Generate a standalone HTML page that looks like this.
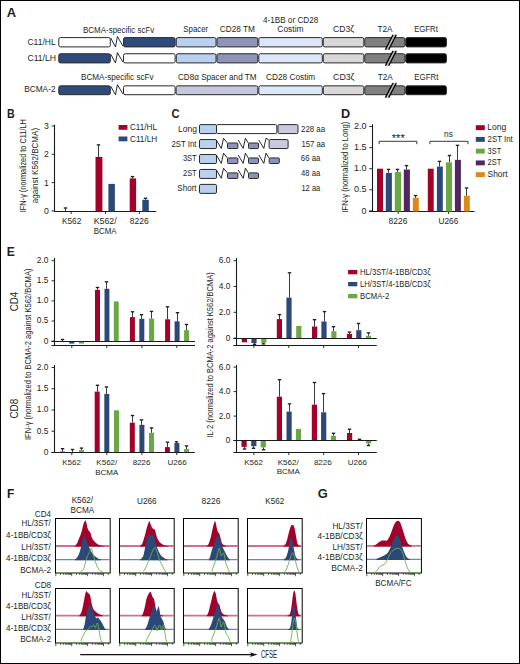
<!DOCTYPE html>
<html><head><meta charset="utf-8"><style>
html,body{margin:0;padding:0;background:#fff;}
svg{display:block;}
svg text{font-family:"Liberation Sans",sans-serif;fill:#231f20;}
</style></head><body>
<svg width="520" height="664" viewBox="0 0 520 664">
<rect x="0" y="0" width="520" height="664" fill="#fff"/>
<rect x="0.50" y="0.50" width="519.00" height="663.00" fill="none" stroke="#000" stroke-width="1.0"/>
<text x="6.78" y="16.50" font-size="12.2" font-weight="bold" textLength="9.36" lengthAdjust="spacingAndGlyphs">A</text>
<rect x="58.80" y="37.60" width="51.50" height="9.30" fill="#ffffff" stroke="#2a2a2a" stroke-width="1" rx="1.6"/>
<path d="M110.60,37.90 L115.50,47.00 L117.40,36.50 L122.90,46.00" fill="none" stroke="#111" stroke-width="0.9" stroke-linejoin="round"/>
<rect x="123.50" y="37.60" width="51.60" height="9.30" fill="#2e4b7c" stroke="#2a2a2a" stroke-width="1" rx="1.6"/>
<rect x="176.30" y="37.60" width="39.70" height="9.30" fill="#b9d1ef" stroke="#2a2a2a" stroke-width="1" rx="1.6"/>
<rect x="217.00" y="37.60" width="40.80" height="9.30" fill="#8e96b8" stroke="#2a2a2a" stroke-width="1" rx="1.6"/>
<rect x="258.80" y="37.60" width="63.50" height="9.30" fill="#dce7f7" stroke="#2a2a2a" stroke-width="1" rx="1.6"/>
<rect x="323.30" y="37.60" width="40.50" height="9.30" fill="#d8d8d8" stroke="#2a2a2a" stroke-width="1" rx="1.6"/>
<rect x="364.80" y="37.60" width="40.00" height="9.30" fill="#808080" stroke="#2a2a2a" stroke-width="1" rx="1.6"/>
<rect x="405.80" y="37.60" width="40.60" height="9.30" fill="#000000" stroke="#2a2a2a" stroke-width="1" rx="1.6"/>
<path d="M385.4,49.8 L393.0,34.7 L396.3,34.7 L388.7,49.8 Z" fill="#b4b4b4"/>
<line x1="385.40" y1="49.80" x2="393.00" y2="34.70" stroke="#000" stroke-width="1.3"/>
<line x1="388.70" y1="49.80" x2="396.30" y2="34.70" stroke="#000" stroke-width="1.3"/>
<rect x="58.80" y="53.75" width="51.50" height="9.15" fill="#2e4b7c" stroke="#2a2a2a" stroke-width="1" rx="1.6"/>
<path d="M110.60,54.05 L115.50,63.00 L117.40,52.65 L122.90,62.00" fill="none" stroke="#111" stroke-width="0.9" stroke-linejoin="round"/>
<rect x="123.50" y="53.75" width="51.60" height="9.15" fill="#ffffff" stroke="#2a2a2a" stroke-width="1" rx="1.6"/>
<rect x="176.30" y="53.75" width="39.70" height="9.15" fill="#b9d1ef" stroke="#2a2a2a" stroke-width="1" rx="1.6"/>
<rect x="217.00" y="53.75" width="40.80" height="9.15" fill="#8e96b8" stroke="#2a2a2a" stroke-width="1" rx="1.6"/>
<rect x="258.80" y="53.75" width="63.50" height="9.15" fill="#dce7f7" stroke="#2a2a2a" stroke-width="1" rx="1.6"/>
<rect x="323.30" y="53.75" width="40.50" height="9.15" fill="#d8d8d8" stroke="#2a2a2a" stroke-width="1" rx="1.6"/>
<rect x="364.80" y="53.75" width="40.00" height="9.15" fill="#808080" stroke="#2a2a2a" stroke-width="1" rx="1.6"/>
<rect x="405.80" y="53.75" width="40.60" height="9.15" fill="#000000" stroke="#2a2a2a" stroke-width="1" rx="1.6"/>
<path d="M385.4,65.8 L393.0,50.85 L396.3,50.85 L388.7,65.8 Z" fill="#b4b4b4"/>
<line x1="385.40" y1="65.80" x2="393.00" y2="50.85" stroke="#000" stroke-width="1.3"/>
<line x1="388.70" y1="65.80" x2="396.30" y2="50.85" stroke="#000" stroke-width="1.3"/>
<rect x="58.80" y="85.85" width="51.50" height="8.85" fill="#2e4b7c" stroke="#2a2a2a" stroke-width="1" rx="1.6"/>
<path d="M110.60,86.15 L115.50,94.80 L117.40,84.75 L122.90,93.80" fill="none" stroke="#111" stroke-width="0.9" stroke-linejoin="round"/>
<rect x="123.50" y="85.85" width="51.60" height="8.85" fill="#ffffff" stroke="#2a2a2a" stroke-width="1" rx="1.6"/>
<rect x="176.10" y="85.85" width="81.70" height="8.85" fill="#c5c8dc" stroke="#2a2a2a" stroke-width="1" rx="1.6"/>
<rect x="258.80" y="85.85" width="63.50" height="8.85" fill="#dce7f7" stroke="#2a2a2a" stroke-width="1" rx="1.6"/>
<rect x="323.30" y="85.85" width="40.50" height="8.85" fill="#d8d8d8" stroke="#2a2a2a" stroke-width="1" rx="1.6"/>
<rect x="364.80" y="85.85" width="40.00" height="8.85" fill="#808080" stroke="#2a2a2a" stroke-width="1" rx="1.6"/>
<rect x="405.80" y="85.85" width="40.60" height="8.85" fill="#000000" stroke="#2a2a2a" stroke-width="1" rx="1.6"/>
<path d="M385.4,97.60000000000001 L393.0,82.94999999999999 L396.3,82.94999999999999 L388.7,97.60000000000001 Z" fill="#b4b4b4"/>
<line x1="385.40" y1="97.60" x2="393.00" y2="82.95" stroke="#000" stroke-width="1.3"/>
<line x1="388.70" y1="97.60" x2="396.30" y2="82.95" stroke="#000" stroke-width="1.3"/>
<text x="27.48" y="44.50" font-size="8.3" textLength="28.20" lengthAdjust="spacingAndGlyphs">C11/HL</text>
<text x="27.47" y="60.50" font-size="8.3" textLength="28.51" lengthAdjust="spacingAndGlyphs">C11/LH</text>
<text x="24.22" y="92.30" font-size="8.3" textLength="31.30" lengthAdjust="spacingAndGlyphs">BCMA-2</text>
<text x="83.05" y="32.50" font-size="8.3" textLength="71.18" lengthAdjust="spacingAndGlyphs">BCMA-specific scFv</text>
<text x="183.34" y="32.20" font-size="8.3" textLength="24.89" lengthAdjust="spacingAndGlyphs">Spacer</text>
<text x="219.78" y="32.20" font-size="8.3" textLength="35.09" lengthAdjust="spacingAndGlyphs">CD28 TM</text>
<text x="262.91" y="22.60" font-size="8.3" textLength="55.34" lengthAdjust="spacingAndGlyphs">4-1BB or CD28</text>
<text x="277.27" y="31.80" font-size="8.3" textLength="26.39" lengthAdjust="spacingAndGlyphs">Costim</text>
<text x="333.06" y="32.00" font-size="8.3" textLength="21.10" lengthAdjust="spacingAndGlyphs">CD3ζ</text>
<text x="377.52" y="32.00" font-size="8.3" textLength="15.10" lengthAdjust="spacingAndGlyphs">T2A</text>
<text x="414.16" y="32.20" font-size="8.3" textLength="23.69" lengthAdjust="spacingAndGlyphs">EGFRt</text>
<text x="81.04" y="79.60" font-size="8.3" textLength="72.49" lengthAdjust="spacingAndGlyphs">BCMA-specific scFv</text>
<text x="177.99" y="79.70" font-size="8.3" textLength="78.48" lengthAdjust="spacingAndGlyphs">CD8α Spacer and TM</text>
<text x="266.08" y="79.70" font-size="8.3" textLength="49.06" lengthAdjust="spacingAndGlyphs">CD28 Costim</text>
<text x="333.05" y="80.00" font-size="8.3" textLength="21.41" lengthAdjust="spacingAndGlyphs">CD3ζ</text>
<text x="377.82" y="80.00" font-size="8.3" textLength="15.00" lengthAdjust="spacingAndGlyphs">T2A</text>
<text x="414.25" y="80.00" font-size="8.3" textLength="24.10" lengthAdjust="spacingAndGlyphs">EGFRt</text>
<text x="7.09" y="117.60" font-size="12.4" font-weight="bold" textLength="7.70" lengthAdjust="spacingAndGlyphs">B</text>
<line x1="54.50" y1="124.60" x2="54.50" y2="212.00" stroke="#1a1a1a" stroke-width="1.1"/>
<line x1="54.00" y1="211.50" x2="156.30" y2="211.50" stroke="#1a1a1a" stroke-width="1.1"/>
<line x1="51.60" y1="210.90" x2="54.50" y2="210.90" stroke="#1a1a1a" stroke-width="0.9"/>
<text x="44.00" y="213.90" font-size="8.7" textLength="4.84" lengthAdjust="spacingAndGlyphs">0</text>
<line x1="51.60" y1="182.60" x2="54.50" y2="182.60" stroke="#1a1a1a" stroke-width="0.9"/>
<text x="44.09" y="185.60" font-size="8.7" textLength="4.84" lengthAdjust="spacingAndGlyphs">1</text>
<line x1="51.60" y1="154.30" x2="54.50" y2="154.30" stroke="#1a1a1a" stroke-width="0.9"/>
<text x="44.10" y="157.30" font-size="8.7" textLength="4.84" lengthAdjust="spacingAndGlyphs">2</text>
<line x1="51.60" y1="126.00" x2="54.50" y2="126.00" stroke="#1a1a1a" stroke-width="0.9"/>
<text x="44.04" y="129.00" font-size="8.7" textLength="4.84" lengthAdjust="spacingAndGlyphs">3</text>
<line x1="71.20" y1="211.50" x2="71.20" y2="214.00" stroke="#1a1a1a" stroke-width="0.9"/>
<line x1="105.50" y1="211.50" x2="105.50" y2="214.00" stroke="#1a1a1a" stroke-width="0.9"/>
<line x1="139.40" y1="211.50" x2="139.40" y2="214.00" stroke="#1a1a1a" stroke-width="0.9"/>
<line x1="65.50" y1="211.00" x2="65.50" y2="208.20" stroke="#3a3a3a" stroke-width="1.0"/>
<line x1="63.80" y1="208.00" x2="67.20" y2="208.00" stroke="#222" stroke-width="1.4"/>
<rect x="95.50" y="156.90" width="6.90" height="54.60" fill="#a3002a"/>
<line x1="98.50" y1="156.90" x2="98.50" y2="145.10" stroke="#3a3a3a" stroke-width="1.0"/>
<line x1="96.80" y1="144.90" x2="100.20" y2="144.90" stroke="#222" stroke-width="1.4"/>
<rect x="108.40" y="183.90" width="6.50" height="27.60" fill="#2c4878"/>
<rect x="129.70" y="178.40" width="6.40" height="33.10" fill="#a3002a"/>
<line x1="132.50" y1="178.40" x2="132.50" y2="176.80" stroke="#3a3a3a" stroke-width="1.0"/>
<line x1="130.80" y1="176.60" x2="134.20" y2="176.60" stroke="#222" stroke-width="1.4"/>
<rect x="142.30" y="199.80" width="6.50" height="11.70" fill="#2c4878"/>
<line x1="145.50" y1="199.80" x2="145.50" y2="198.50" stroke="#3a3a3a" stroke-width="1.0"/>
<line x1="143.80" y1="198.30" x2="147.20" y2="198.30" stroke="#222" stroke-width="1.4"/>
<rect x="118.60" y="125.00" width="8.80" height="4.80" fill="#a3002a"/>
<rect x="118.60" y="136.50" width="8.80" height="4.80" fill="#2c4878"/>
<text x="130.00" y="130.00" font-size="8.3" textLength="26.97" lengthAdjust="spacingAndGlyphs">C11/HL</text>
<text x="129.99" y="141.50" font-size="8.3" textLength="27.16" lengthAdjust="spacingAndGlyphs">C11/LH</text>
<text x="62.02" y="224.20" font-size="8.3" textLength="19.29" lengthAdjust="spacingAndGlyphs">K562</text>
<text x="93.68" y="224.20" font-size="8.3" textLength="22.92" lengthAdjust="spacingAndGlyphs">K562/</text>
<text x="93.75" y="233.60" font-size="8.3" textLength="22.86" lengthAdjust="spacingAndGlyphs">BCMA</text>
<text x="129.83" y="224.20" font-size="8.3" textLength="18.84" lengthAdjust="spacingAndGlyphs">8226</text>
<text transform="translate(26.32,212.17) rotate(-90)" x="0" y="0" font-size="9.0" textLength="93.07" lengthAdjust="spacingAndGlyphs">IFN-γ (normalized to C11/LH</text>
<text transform="translate(38.32,203.14) rotate(-90)" x="0" y="0" font-size="9.0" textLength="75.24" lengthAdjust="spacingAndGlyphs">against K562/BCMA)</text>
<text x="171.44" y="117.60" font-size="12.2" font-weight="bold" textLength="8.06" lengthAdjust="spacingAndGlyphs">C</text>
<rect x="199.50" y="124.60" width="17.00" height="9.00" fill="#b9d1ef" stroke="#2a2a2a" stroke-width="1" rx="1.3"/>
<text x="178.10" y="131.70" font-size="8.6" textLength="18.95" lengthAdjust="spacingAndGlyphs">Long</text>
<text x="301.00" y="131.80" font-size="8.3" textLength="24.10" lengthAdjust="spacingAndGlyphs">228 aa</text>
<rect x="199.50" y="139.55" width="17.00" height="9.00" fill="#b9d1ef" stroke="#2a2a2a" stroke-width="1" rx="1.3"/>
<text x="171.41" y="146.70" font-size="8.6" textLength="25.15" lengthAdjust="spacingAndGlyphs">2ST Int</text>
<text x="301.41" y="146.50" font-size="8.3" textLength="23.69" lengthAdjust="spacingAndGlyphs">157 aa</text>
<rect x="199.50" y="154.50" width="17.00" height="9.00" fill="#b9d1ef" stroke="#2a2a2a" stroke-width="1" rx="1.3"/>
<text x="182.91" y="161.40" font-size="8.6" textLength="13.76" lengthAdjust="spacingAndGlyphs">3ST</text>
<text x="300.80" y="161.20" font-size="8.3" textLength="19.50" lengthAdjust="spacingAndGlyphs">66 aa</text>
<rect x="199.50" y="169.45" width="17.00" height="9.00" fill="#b9d1ef" stroke="#2a2a2a" stroke-width="1" rx="1.3"/>
<text x="183.03" y="176.30" font-size="8.6" textLength="13.64" lengthAdjust="spacingAndGlyphs">2ST</text>
<text x="301.02" y="176.00" font-size="8.3" textLength="19.28" lengthAdjust="spacingAndGlyphs">48 aa</text>
<rect x="199.50" y="184.40" width="17.00" height="9.00" fill="#b9d1ef" stroke="#2a2a2a" stroke-width="1" rx="1.3"/>
<text x="177.33" y="190.90" font-size="8.6" textLength="19.22" lengthAdjust="spacingAndGlyphs">Short</text>
<text x="301.43" y="190.70" font-size="8.3" textLength="18.87" lengthAdjust="spacingAndGlyphs">12 aa</text>
<rect x="216.50" y="124.60" width="60.30" height="9.00" fill="#ffffff" stroke="#2a2a2a" stroke-width="1" rx="1.3"/>
<rect x="278.00" y="124.60" width="20.00" height="9.00" fill="#c8c9dc" stroke="#2a2a2a" stroke-width="1" rx="1.3"/>
<path d="M216.30,140.05 L221.30,148.45 L223.50,138.25 L227.20,142.90" fill="none" stroke="#111" stroke-width="0.9" stroke-linejoin="round"/>
<rect x="227.50" y="143.00" width="10.40" height="5.55" fill="#8e93b8" stroke="#2a2a2a" stroke-width="1" rx="0.9"/>
<path d="M238.20,140.05 L243.20,148.45 L245.40,138.25 L248.20,142.90" fill="none" stroke="#111" stroke-width="0.9" stroke-linejoin="round"/>
<rect x="248.50" y="143.00" width="10.00" height="5.55" fill="#8e93b8" stroke="#2a2a2a" stroke-width="1" rx="0.9"/>
<path d="M258.80,140.05 L263.80,148.45 L266.00,138.25 L268.80,139.95" fill="none" stroke="#111" stroke-width="0.9" stroke-linejoin="round"/>
<rect x="269.10" y="139.55" width="19.00" height="9.00" fill="#c8c9dc" stroke="#2a2a2a" stroke-width="1" rx="1.3"/>
<path d="M216.30,155.00 L221.30,163.40 L223.50,153.20 L227.20,157.85" fill="none" stroke="#111" stroke-width="0.9" stroke-linejoin="round"/>
<rect x="227.50" y="157.95" width="10.40" height="5.55" fill="#8e93b8" stroke="#2a2a2a" stroke-width="1" rx="0.9"/>
<path d="M238.20,155.00 L243.20,163.40 L245.40,153.20 L248.20,157.85" fill="none" stroke="#111" stroke-width="0.9" stroke-linejoin="round"/>
<rect x="248.50" y="157.95" width="10.00" height="5.55" fill="#8e93b8" stroke="#2a2a2a" stroke-width="1" rx="0.9"/>
<path d="M258.80,155.00 L263.80,163.40 L266.00,153.20 L268.90,157.85" fill="none" stroke="#111" stroke-width="0.9" stroke-linejoin="round"/>
<rect x="269.20" y="157.95" width="10.10" height="5.55" fill="#8e93b8" stroke="#2a2a2a" stroke-width="1" rx="0.9"/>
<path d="M216.30,169.95 L221.30,178.35 L223.50,168.15 L227.20,172.80" fill="none" stroke="#111" stroke-width="0.9" stroke-linejoin="round"/>
<rect x="227.50" y="172.90" width="10.40" height="5.55" fill="#8e93b8" stroke="#2a2a2a" stroke-width="1" rx="0.9"/>
<path d="M238.20,169.95 L243.20,178.35 L245.40,168.15 L248.20,172.80" fill="none" stroke="#111" stroke-width="0.9" stroke-linejoin="round"/>
<rect x="248.50" y="172.90" width="10.00" height="5.55" fill="#8e93b8" stroke="#2a2a2a" stroke-width="1" rx="0.9"/>
<text x="341.05" y="117.60" font-size="12.2" font-weight="bold" textLength="9.18" lengthAdjust="spacingAndGlyphs">D</text>
<line x1="372.50" y1="124.20" x2="372.50" y2="212.00" stroke="#1a1a1a" stroke-width="1.1"/>
<line x1="369.00" y1="211.50" x2="474.50" y2="211.50" stroke="#1a1a1a" stroke-width="1.1"/>
<line x1="369.30" y1="210.90" x2="372.50" y2="210.90" stroke="#1a1a1a" stroke-width="0.9"/>
<text x="361.55" y="213.50" font-size="9.0" textLength="5.01" lengthAdjust="spacingAndGlyphs">0</text>
<line x1="369.30" y1="189.80" x2="372.50" y2="189.80" stroke="#1a1a1a" stroke-width="0.9"/>
<text x="354.07" y="192.40" font-size="9.0" textLength="12.51" lengthAdjust="spacingAndGlyphs">0.5</text>
<line x1="369.30" y1="168.70" x2="372.50" y2="168.70" stroke="#1a1a1a" stroke-width="0.9"/>
<text x="354.04" y="171.30" font-size="9.0" textLength="12.51" lengthAdjust="spacingAndGlyphs">1.0</text>
<line x1="369.30" y1="147.60" x2="372.50" y2="147.60" stroke="#1a1a1a" stroke-width="0.9"/>
<text x="354.07" y="150.20" font-size="9.0" textLength="12.51" lengthAdjust="spacingAndGlyphs">1.5</text>
<line x1="369.30" y1="126.50" x2="372.50" y2="126.50" stroke="#1a1a1a" stroke-width="0.9"/>
<text x="354.04" y="129.10" font-size="9.0" textLength="12.51" lengthAdjust="spacingAndGlyphs">2.0</text>
<line x1="398.20" y1="211.50" x2="398.20" y2="214.00" stroke="#1a1a1a" stroke-width="0.9"/>
<line x1="448.60" y1="211.50" x2="448.60" y2="214.00" stroke="#1a1a1a" stroke-width="0.9"/>
<rect x="377.00" y="168.70" width="6.00" height="42.80" fill="#a3002a"/>
<rect x="385.80" y="172.92" width="6.10" height="38.58" fill="#2c4878"/>
<line x1="388.50" y1="172.92" x2="388.50" y2="169.62" stroke="#3a3a3a" stroke-width="1.0"/>
<line x1="386.80" y1="169.42" x2="390.20" y2="169.42" stroke="#222" stroke-width="1.4"/>
<rect x="394.80" y="172.08" width="6.20" height="39.42" fill="#6aa843"/>
<line x1="397.50" y1="172.08" x2="397.50" y2="169.62" stroke="#3a3a3a" stroke-width="1.0"/>
<line x1="395.80" y1="169.42" x2="399.20" y2="169.42" stroke="#222" stroke-width="1.4"/>
<rect x="403.80" y="169.54" width="6.10" height="41.96" fill="#512763"/>
<line x1="406.50" y1="169.54" x2="406.50" y2="165.82" stroke="#3a3a3a" stroke-width="1.0"/>
<line x1="404.80" y1="165.62" x2="408.20" y2="165.62" stroke="#222" stroke-width="1.4"/>
<rect x="412.80" y="197.82" width="6.00" height="13.68" fill="#da8a18"/>
<line x1="415.50" y1="197.82" x2="415.50" y2="195.79" stroke="#3a3a3a" stroke-width="1.0"/>
<line x1="413.80" y1="195.59" x2="417.20" y2="195.59" stroke="#222" stroke-width="1.4"/>
<rect x="427.80" y="168.70" width="5.90" height="42.80" fill="#a3002a"/>
<rect x="436.90" y="166.59" width="5.90" height="44.91" fill="#2c4878"/>
<line x1="439.50" y1="166.59" x2="439.50" y2="161.60" stroke="#3a3a3a" stroke-width="1.0"/>
<line x1="437.80" y1="161.40" x2="441.20" y2="161.40" stroke="#222" stroke-width="1.4"/>
<rect x="446.00" y="162.37" width="6.00" height="49.13" fill="#6aa843"/>
<line x1="449.50" y1="162.37" x2="449.50" y2="155.70" stroke="#3a3a3a" stroke-width="1.0"/>
<line x1="447.80" y1="155.50" x2="451.20" y2="155.50" stroke="#222" stroke-width="1.4"/>
<rect x="454.90" y="159.84" width="6.00" height="51.66" fill="#512763"/>
<line x1="457.50" y1="159.84" x2="457.50" y2="145.57" stroke="#3a3a3a" stroke-width="1.0"/>
<line x1="455.80" y1="145.37" x2="459.20" y2="145.37" stroke="#222" stroke-width="1.4"/>
<rect x="463.90" y="195.71" width="5.90" height="15.79" fill="#da8a18"/>
<line x1="466.50" y1="195.71" x2="466.50" y2="188.19" stroke="#3a3a3a" stroke-width="1.0"/>
<line x1="464.80" y1="187.99" x2="468.20" y2="187.99" stroke="#222" stroke-width="1.4"/>
<path d="M379.10,144.20 L379.10,141.30 L416.80,141.30 L416.80,144.20" fill="none" stroke="#222" stroke-width="0.9" stroke-linejoin="round"/>
<path d="M429.90,144.20 L429.90,141.30 L468.00,141.30 L468.00,144.20" fill="none" stroke="#222" stroke-width="0.9" stroke-linejoin="round"/>
<text x="391.72" y="141.60" font-size="10.5" textLength="13.16" lengthAdjust="spacingAndGlyphs">***</text>
<text x="444.14" y="137.20" font-size="8.2" textLength="8.86" lengthAdjust="spacingAndGlyphs">ns</text>
<rect x="475.80" y="125.20" width="9.00" height="4.90" fill="#a3002a"/>
<text x="487.20" y="130.10" font-size="8.3" textLength="19.05" lengthAdjust="spacingAndGlyphs">Long</text>
<rect x="475.80" y="136.95" width="9.00" height="4.90" fill="#2c4878"/>
<text x="487.51" y="141.85" font-size="8.3" textLength="25.25" lengthAdjust="spacingAndGlyphs">2ST Int</text>
<rect x="475.80" y="148.70" width="9.00" height="4.90" fill="#6aa843"/>
<text x="487.62" y="153.60" font-size="8.3" textLength="13.65" lengthAdjust="spacingAndGlyphs">3ST</text>
<rect x="475.80" y="160.45" width="9.00" height="4.90" fill="#512763"/>
<text x="487.52" y="165.35" font-size="8.3" textLength="13.75" lengthAdjust="spacingAndGlyphs">2ST</text>
<rect x="475.80" y="172.20" width="9.00" height="4.90" fill="#da8a18"/>
<text x="487.52" y="177.10" font-size="8.3" textLength="20.14" lengthAdjust="spacingAndGlyphs">Short</text>
<text x="388.53" y="223.90" font-size="8.3" textLength="18.84" lengthAdjust="spacingAndGlyphs">8226</text>
<text x="438.46" y="223.90" font-size="8.3" textLength="19.80" lengthAdjust="spacingAndGlyphs">U266</text>
<text transform="translate(348.22,212.51) rotate(-90)" x="0" y="0" font-size="9.0" textLength="90.88" lengthAdjust="spacingAndGlyphs">IFN-γ (normalized to Long)</text>
<text x="6.69" y="256.40" font-size="12.2" font-weight="bold" textLength="8.08" lengthAdjust="spacingAndGlyphs">E</text>
<text transform="translate(17.64,311.19) rotate(-90)" x="0" y="0" font-size="10.8" textLength="19.48" lengthAdjust="spacingAndGlyphs">CD4</text>
<text transform="translate(17.64,418.61) rotate(-90)" x="0" y="0" font-size="10.8" textLength="19.94" lengthAdjust="spacingAndGlyphs">CD8</text>
<text transform="translate(30.62,440.00) rotate(-90)" x="0" y="0" font-size="9.0" textLength="171.46" lengthAdjust="spacingAndGlyphs">IFN-γ (normalized to BCMA-2 against K562/BCMA)</text>
<text transform="translate(213.22,437.69) rotate(-90)" x="0" y="0" font-size="9.0" textLength="165.36" lengthAdjust="spacingAndGlyphs">IL·2 (normalized to BCMA-2 against K562/BCMA)</text>
<rect x="59.80" y="341.50" width="5.00" height="0.00" fill="#a3002a"/>
<rect x="69.30" y="341.50" width="5.00" height="2.10" fill="#2c4878"/>
<rect x="79.00" y="341.50" width="5.00" height="2.10" fill="#6aa843"/>
<rect x="95.00" y="289.90" width="5.00" height="51.60" fill="#a3002a"/>
<rect x="104.50" y="288.80" width="4.90" height="52.70" fill="#2c4878"/>
<rect x="113.80" y="301.40" width="4.90" height="40.10" fill="#6aa843"/>
<rect x="129.90" y="317.10" width="5.00" height="24.40" fill="#a3002a"/>
<rect x="139.30" y="318.80" width="5.00" height="22.70" fill="#2c4878"/>
<rect x="149.10" y="318.60" width="5.00" height="22.90" fill="#6aa843"/>
<rect x="165.10" y="319.30" width="5.00" height="22.20" fill="#a3002a"/>
<rect x="174.60" y="321.30" width="5.00" height="20.20" fill="#2c4878"/>
<rect x="184.10" y="330.10" width="5.00" height="11.40" fill="#6aa843"/>
<line x1="54.50" y1="257.90" x2="54.50" y2="346.00" stroke="#1a1a1a" stroke-width="1.1"/>
<line x1="51.50" y1="345.50" x2="195.00" y2="345.50" stroke="#1a1a1a" stroke-width="1.1"/>
<line x1="51.50" y1="341.50" x2="195.00" y2="341.50" stroke="#1a1a1a" stroke-width="1.0"/>
<line x1="51.50" y1="341.10" x2="54.50" y2="341.10" stroke="#1a1a1a" stroke-width="0.9"/>
<text x="43.86" y="343.50" font-size="8.4" textLength="4.67" lengthAdjust="spacingAndGlyphs">0</text>
<line x1="51.50" y1="321.00" x2="54.50" y2="321.00" stroke="#1a1a1a" stroke-width="0.9"/>
<text x="36.88" y="323.40" font-size="8.4" textLength="11.68" lengthAdjust="spacingAndGlyphs">0.5</text>
<line x1="51.50" y1="300.90" x2="54.50" y2="300.90" stroke="#1a1a1a" stroke-width="0.9"/>
<text x="36.85" y="303.30" font-size="8.4" textLength="11.68" lengthAdjust="spacingAndGlyphs">1.0</text>
<line x1="51.50" y1="280.80" x2="54.50" y2="280.80" stroke="#1a1a1a" stroke-width="0.9"/>
<text x="36.88" y="283.20" font-size="8.4" textLength="11.68" lengthAdjust="spacingAndGlyphs">1.5</text>
<line x1="51.50" y1="260.70" x2="54.50" y2="260.70" stroke="#1a1a1a" stroke-width="0.9"/>
<text x="36.85" y="263.10" font-size="8.4" textLength="11.68" lengthAdjust="spacingAndGlyphs">2.0</text>
<line x1="71.80" y1="345.50" x2="71.80" y2="348.10" stroke="#1a1a1a" stroke-width="0.9"/>
<line x1="106.80" y1="345.50" x2="106.80" y2="348.10" stroke="#1a1a1a" stroke-width="0.9"/>
<line x1="141.90" y1="345.50" x2="141.90" y2="348.10" stroke="#1a1a1a" stroke-width="0.9"/>
<line x1="176.80" y1="345.50" x2="176.80" y2="348.10" stroke="#1a1a1a" stroke-width="0.9"/>
<line x1="62.50" y1="341.50" x2="62.50" y2="339.70" stroke="#3a3a3a" stroke-width="1.0"/>
<line x1="60.80" y1="339.50" x2="64.20" y2="339.50" stroke="#222" stroke-width="1.4"/>
<line x1="97.50" y1="289.90" x2="97.50" y2="287.70" stroke="#3a3a3a" stroke-width="1.0"/>
<line x1="95.80" y1="287.50" x2="99.20" y2="287.50" stroke="#222" stroke-width="1.4"/>
<line x1="106.50" y1="288.80" x2="106.50" y2="282.00" stroke="#3a3a3a" stroke-width="1.0"/>
<line x1="104.80" y1="281.80" x2="108.20" y2="281.80" stroke="#222" stroke-width="1.4"/>
<line x1="132.50" y1="317.10" x2="132.50" y2="312.00" stroke="#3a3a3a" stroke-width="1.0"/>
<line x1="130.80" y1="311.80" x2="134.20" y2="311.80" stroke="#222" stroke-width="1.4"/>
<line x1="141.50" y1="318.80" x2="141.50" y2="314.90" stroke="#3a3a3a" stroke-width="1.0"/>
<line x1="139.80" y1="314.70" x2="143.20" y2="314.70" stroke="#222" stroke-width="1.4"/>
<line x1="151.50" y1="318.60" x2="151.50" y2="311.60" stroke="#3a3a3a" stroke-width="1.0"/>
<line x1="149.80" y1="311.40" x2="153.20" y2="311.40" stroke="#222" stroke-width="1.4"/>
<line x1="167.50" y1="319.30" x2="167.50" y2="307.00" stroke="#3a3a3a" stroke-width="1.0"/>
<line x1="165.80" y1="306.80" x2="169.20" y2="306.80" stroke="#222" stroke-width="1.4"/>
<line x1="177.50" y1="321.30" x2="177.50" y2="312.90" stroke="#3a3a3a" stroke-width="1.0"/>
<line x1="175.80" y1="312.70" x2="179.20" y2="312.70" stroke="#222" stroke-width="1.4"/>
<line x1="186.50" y1="330.10" x2="186.50" y2="324.70" stroke="#3a3a3a" stroke-width="1.0"/>
<line x1="184.80" y1="324.50" x2="188.20" y2="324.50" stroke="#222" stroke-width="1.4"/>
<rect x="60.00" y="451.60" width="5.00" height="0.90" fill="#a3002a"/>
<rect x="69.50" y="452.00" width="5.00" height="0.50" fill="#2c4878"/>
<rect x="79.00" y="450.10" width="5.00" height="2.40" fill="#6aa843"/>
<rect x="94.70" y="391.60" width="5.00" height="60.90" fill="#a3002a"/>
<rect x="104.30" y="393.90" width="5.00" height="58.60" fill="#2c4878"/>
<rect x="114.00" y="410.30" width="5.00" height="42.20" fill="#6aa843"/>
<rect x="129.80" y="422.70" width="5.00" height="29.80" fill="#a3002a"/>
<rect x="139.40" y="424.80" width="5.00" height="27.70" fill="#2c4878"/>
<rect x="149.00" y="432.80" width="5.00" height="19.70" fill="#6aa843"/>
<rect x="164.90" y="447.10" width="5.00" height="5.40" fill="#a3002a"/>
<rect x="174.40" y="443.00" width="5.00" height="9.50" fill="#2c4878"/>
<rect x="184.10" y="449.00" width="5.00" height="3.50" fill="#6aa843"/>
<line x1="54.50" y1="365.00" x2="54.50" y2="453.00" stroke="#1a1a1a" stroke-width="1.1"/>
<line x1="51.50" y1="452.50" x2="194.80" y2="452.50" stroke="#1a1a1a" stroke-width="1.1"/>
<line x1="51.50" y1="452.50" x2="54.50" y2="452.50" stroke="#1a1a1a" stroke-width="0.9"/>
<text x="43.86" y="454.90" font-size="8.4" textLength="4.67" lengthAdjust="spacingAndGlyphs">0</text>
<line x1="51.50" y1="431.25" x2="54.50" y2="431.25" stroke="#1a1a1a" stroke-width="0.9"/>
<text x="36.88" y="433.65" font-size="8.4" textLength="11.68" lengthAdjust="spacingAndGlyphs">0.5</text>
<line x1="51.50" y1="410.00" x2="54.50" y2="410.00" stroke="#1a1a1a" stroke-width="0.9"/>
<text x="36.85" y="412.40" font-size="8.4" textLength="11.68" lengthAdjust="spacingAndGlyphs">1.0</text>
<line x1="51.50" y1="388.75" x2="54.50" y2="388.75" stroke="#1a1a1a" stroke-width="0.9"/>
<text x="36.88" y="391.15" font-size="8.4" textLength="11.68" lengthAdjust="spacingAndGlyphs">1.5</text>
<line x1="51.50" y1="367.50" x2="54.50" y2="367.50" stroke="#1a1a1a" stroke-width="0.9"/>
<text x="36.85" y="369.90" font-size="8.4" textLength="11.68" lengthAdjust="spacingAndGlyphs">2.0</text>
<line x1="71.80" y1="452.50" x2="71.80" y2="455.10" stroke="#1a1a1a" stroke-width="0.9"/>
<line x1="106.80" y1="452.50" x2="106.80" y2="455.10" stroke="#1a1a1a" stroke-width="0.9"/>
<line x1="141.90" y1="452.50" x2="141.90" y2="455.10" stroke="#1a1a1a" stroke-width="0.9"/>
<line x1="176.80" y1="452.50" x2="176.80" y2="455.10" stroke="#1a1a1a" stroke-width="0.9"/>
<line x1="62.50" y1="451.60" x2="62.50" y2="448.90" stroke="#3a3a3a" stroke-width="1.0"/>
<line x1="60.80" y1="448.70" x2="64.20" y2="448.70" stroke="#222" stroke-width="1.4"/>
<line x1="72.50" y1="452.00" x2="72.50" y2="449.70" stroke="#3a3a3a" stroke-width="1.0"/>
<line x1="70.80" y1="449.50" x2="74.20" y2="449.50" stroke="#222" stroke-width="1.4"/>
<line x1="81.50" y1="450.10" x2="81.50" y2="448.30" stroke="#3a3a3a" stroke-width="1.0"/>
<line x1="79.80" y1="448.10" x2="83.20" y2="448.10" stroke="#222" stroke-width="1.4"/>
<line x1="97.50" y1="391.60" x2="97.50" y2="385.50" stroke="#3a3a3a" stroke-width="1.0"/>
<line x1="95.80" y1="385.30" x2="99.20" y2="385.30" stroke="#222" stroke-width="1.4"/>
<line x1="106.50" y1="393.90" x2="106.50" y2="387.20" stroke="#3a3a3a" stroke-width="1.0"/>
<line x1="104.80" y1="387.00" x2="108.20" y2="387.00" stroke="#222" stroke-width="1.4"/>
<line x1="132.50" y1="422.70" x2="132.50" y2="415.70" stroke="#3a3a3a" stroke-width="1.0"/>
<line x1="130.80" y1="415.50" x2="134.20" y2="415.50" stroke="#222" stroke-width="1.4"/>
<line x1="141.50" y1="424.80" x2="141.50" y2="420.10" stroke="#3a3a3a" stroke-width="1.0"/>
<line x1="139.80" y1="419.90" x2="143.20" y2="419.90" stroke="#222" stroke-width="1.4"/>
<line x1="151.50" y1="432.80" x2="151.50" y2="428.10" stroke="#3a3a3a" stroke-width="1.0"/>
<line x1="149.80" y1="427.90" x2="153.20" y2="427.90" stroke="#222" stroke-width="1.4"/>
<line x1="167.50" y1="447.10" x2="167.50" y2="442.40" stroke="#3a3a3a" stroke-width="1.0"/>
<line x1="165.80" y1="442.20" x2="169.20" y2="442.20" stroke="#222" stroke-width="1.4"/>
<line x1="176.50" y1="443.00" x2="176.50" y2="442.00" stroke="#3a3a3a" stroke-width="1.0"/>
<line x1="174.80" y1="441.80" x2="178.20" y2="441.80" stroke="#222" stroke-width="1.4"/>
<line x1="186.50" y1="449.00" x2="186.50" y2="446.10" stroke="#3a3a3a" stroke-width="1.0"/>
<line x1="184.80" y1="445.90" x2="188.20" y2="445.90" stroke="#222" stroke-width="1.4"/>
<rect x="241.80" y="338.50" width="5.20" height="3.80" fill="#a3002a"/>
<rect x="251.40" y="338.50" width="5.20" height="4.50" fill="#2c4878"/>
<rect x="261.20" y="338.50" width="5.20" height="4.30" fill="#6aa843"/>
<rect x="276.80" y="319.10" width="5.20" height="19.40" fill="#a3002a"/>
<rect x="286.40" y="297.60" width="5.20" height="40.90" fill="#2c4878"/>
<rect x="296.20" y="325.90" width="5.20" height="12.60" fill="#6aa843"/>
<rect x="312.00" y="326.50" width="5.20" height="12.00" fill="#a3002a"/>
<rect x="321.40" y="321.50" width="5.20" height="17.00" fill="#2c4878"/>
<rect x="331.30" y="331.30" width="5.20" height="7.20" fill="#6aa843"/>
<rect x="346.90" y="334.00" width="5.20" height="4.50" fill="#a3002a"/>
<rect x="356.20" y="330.20" width="5.20" height="8.30" fill="#2c4878"/>
<rect x="365.90" y="335.80" width="5.20" height="2.70" fill="#6aa843"/>
<line x1="236.50" y1="257.90" x2="236.50" y2="346.00" stroke="#1a1a1a" stroke-width="1.1"/>
<line x1="233.50" y1="345.50" x2="376.80" y2="345.50" stroke="#1a1a1a" stroke-width="1.1"/>
<line x1="233.50" y1="338.50" x2="376.80" y2="338.50" stroke="#1a1a1a" stroke-width="1.0"/>
<line x1="233.50" y1="338.10" x2="236.50" y2="338.10" stroke="#1a1a1a" stroke-width="0.9"/>
<text x="225.86" y="340.50" font-size="8.4" textLength="4.67" lengthAdjust="spacingAndGlyphs">0</text>
<line x1="233.50" y1="312.30" x2="236.50" y2="312.30" stroke="#1a1a1a" stroke-width="0.9"/>
<text x="218.85" y="314.70" font-size="8.4" textLength="11.68" lengthAdjust="spacingAndGlyphs">2.0</text>
<line x1="233.50" y1="286.50" x2="236.50" y2="286.50" stroke="#1a1a1a" stroke-width="0.9"/>
<text x="218.85" y="288.90" font-size="8.4" textLength="11.68" lengthAdjust="spacingAndGlyphs">4.0</text>
<line x1="233.50" y1="260.70" x2="236.50" y2="260.70" stroke="#1a1a1a" stroke-width="0.9"/>
<text x="218.85" y="263.10" font-size="8.4" textLength="11.68" lengthAdjust="spacingAndGlyphs">6.0</text>
<line x1="253.90" y1="345.50" x2="253.90" y2="348.10" stroke="#1a1a1a" stroke-width="0.9"/>
<line x1="288.80" y1="345.50" x2="288.80" y2="348.10" stroke="#1a1a1a" stroke-width="0.9"/>
<line x1="323.70" y1="345.50" x2="323.70" y2="348.10" stroke="#1a1a1a" stroke-width="0.9"/>
<line x1="358.50" y1="345.50" x2="358.50" y2="348.10" stroke="#1a1a1a" stroke-width="0.9"/>
<line x1="254.50" y1="343.00" x2="254.50" y2="344.50" stroke="#3a3a3a" stroke-width="1.0"/>
<line x1="252.80" y1="344.30" x2="256.20" y2="344.30" stroke="#222" stroke-width="1.4"/>
<line x1="263.50" y1="342.80" x2="263.50" y2="344.10" stroke="#3a3a3a" stroke-width="1.0"/>
<line x1="261.80" y1="343.90" x2="265.20" y2="343.90" stroke="#222" stroke-width="1.4"/>
<line x1="279.50" y1="319.10" x2="279.50" y2="314.80" stroke="#3a3a3a" stroke-width="1.0"/>
<line x1="277.80" y1="314.60" x2="281.20" y2="314.60" stroke="#222" stroke-width="1.4"/>
<line x1="289.50" y1="297.60" x2="289.50" y2="273.00" stroke="#3a3a3a" stroke-width="1.0"/>
<line x1="287.80" y1="272.80" x2="291.20" y2="272.80" stroke="#222" stroke-width="1.4"/>
<line x1="314.50" y1="326.50" x2="314.50" y2="319.90" stroke="#3a3a3a" stroke-width="1.0"/>
<line x1="312.80" y1="319.70" x2="316.20" y2="319.70" stroke="#222" stroke-width="1.4"/>
<line x1="324.50" y1="321.50" x2="324.50" y2="311.80" stroke="#3a3a3a" stroke-width="1.0"/>
<line x1="322.80" y1="311.60" x2="326.20" y2="311.60" stroke="#222" stroke-width="1.4"/>
<line x1="333.50" y1="331.30" x2="333.50" y2="326.90" stroke="#3a3a3a" stroke-width="1.0"/>
<line x1="331.80" y1="326.70" x2="335.20" y2="326.70" stroke="#222" stroke-width="1.4"/>
<line x1="349.50" y1="334.00" x2="349.50" y2="332.30" stroke="#3a3a3a" stroke-width="1.0"/>
<line x1="347.80" y1="332.10" x2="351.20" y2="332.10" stroke="#222" stroke-width="1.4"/>
<line x1="358.50" y1="330.20" x2="358.50" y2="323.70" stroke="#3a3a3a" stroke-width="1.0"/>
<line x1="356.80" y1="323.50" x2="360.20" y2="323.50" stroke="#222" stroke-width="1.4"/>
<line x1="368.50" y1="335.80" x2="368.50" y2="333.10" stroke="#3a3a3a" stroke-width="1.0"/>
<line x1="366.80" y1="332.90" x2="370.20" y2="332.90" stroke="#222" stroke-width="1.4"/>
<rect x="241.50" y="440.50" width="5.20" height="6.40" fill="#a3002a"/>
<rect x="251.20" y="440.50" width="5.20" height="5.70" fill="#2c4878"/>
<rect x="260.70" y="440.50" width="5.20" height="6.90" fill="#6aa843"/>
<rect x="276.80" y="396.70" width="5.20" height="43.80" fill="#a3002a"/>
<rect x="286.50" y="411.60" width="5.20" height="28.90" fill="#2c4878"/>
<rect x="295.90" y="428.90" width="5.20" height="11.60" fill="#6aa843"/>
<rect x="311.80" y="404.70" width="5.20" height="35.80" fill="#a3002a"/>
<rect x="321.10" y="412.30" width="5.20" height="28.20" fill="#2c4878"/>
<rect x="330.80" y="435.80" width="5.20" height="4.70" fill="#6aa843"/>
<rect x="347.00" y="433.00" width="5.20" height="7.50" fill="#a3002a"/>
<rect x="356.40" y="440.00" width="5.20" height="0.50" fill="#2c4878"/>
<rect x="366.10" y="440.50" width="5.20" height="2.90" fill="#6aa843"/>
<line x1="236.50" y1="365.00" x2="236.50" y2="453.00" stroke="#1a1a1a" stroke-width="1.1"/>
<line x1="233.50" y1="452.50" x2="376.80" y2="452.50" stroke="#1a1a1a" stroke-width="1.1"/>
<line x1="233.50" y1="440.50" x2="376.80" y2="440.50" stroke="#1a1a1a" stroke-width="1.0"/>
<line x1="233.50" y1="440.60" x2="236.50" y2="440.60" stroke="#1a1a1a" stroke-width="0.9"/>
<text x="225.86" y="443.00" font-size="8.4" textLength="4.67" lengthAdjust="spacingAndGlyphs">0</text>
<line x1="233.50" y1="416.10" x2="236.50" y2="416.10" stroke="#1a1a1a" stroke-width="0.9"/>
<text x="218.85" y="418.50" font-size="8.4" textLength="11.68" lengthAdjust="spacingAndGlyphs">2.0</text>
<line x1="233.50" y1="391.60" x2="236.50" y2="391.60" stroke="#1a1a1a" stroke-width="0.9"/>
<text x="218.85" y="394.00" font-size="8.4" textLength="11.68" lengthAdjust="spacingAndGlyphs">4.0</text>
<line x1="233.50" y1="367.10" x2="236.50" y2="367.10" stroke="#1a1a1a" stroke-width="0.9"/>
<text x="218.85" y="369.50" font-size="8.4" textLength="11.68" lengthAdjust="spacingAndGlyphs">6.0</text>
<line x1="253.90" y1="452.50" x2="253.90" y2="455.10" stroke="#1a1a1a" stroke-width="0.9"/>
<line x1="288.80" y1="452.50" x2="288.80" y2="455.10" stroke="#1a1a1a" stroke-width="0.9"/>
<line x1="323.70" y1="452.50" x2="323.70" y2="455.10" stroke="#1a1a1a" stroke-width="0.9"/>
<line x1="358.50" y1="452.50" x2="358.50" y2="455.10" stroke="#1a1a1a" stroke-width="0.9"/>
<line x1="244.50" y1="446.90" x2="244.50" y2="449.20" stroke="#3a3a3a" stroke-width="1.0"/>
<line x1="242.80" y1="449.00" x2="246.20" y2="449.00" stroke="#222" stroke-width="1.4"/>
<line x1="253.50" y1="446.20" x2="253.50" y2="448.50" stroke="#3a3a3a" stroke-width="1.0"/>
<line x1="251.80" y1="448.30" x2="255.20" y2="448.30" stroke="#222" stroke-width="1.4"/>
<line x1="263.50" y1="447.40" x2="263.50" y2="449.90" stroke="#3a3a3a" stroke-width="1.0"/>
<line x1="261.80" y1="449.70" x2="265.20" y2="449.70" stroke="#222" stroke-width="1.4"/>
<line x1="279.50" y1="396.70" x2="279.50" y2="379.90" stroke="#3a3a3a" stroke-width="1.0"/>
<line x1="277.80" y1="379.70" x2="281.20" y2="379.70" stroke="#222" stroke-width="1.4"/>
<line x1="289.50" y1="411.60" x2="289.50" y2="404.10" stroke="#3a3a3a" stroke-width="1.0"/>
<line x1="287.80" y1="403.90" x2="291.20" y2="403.90" stroke="#222" stroke-width="1.4"/>
<line x1="314.50" y1="404.70" x2="314.50" y2="382.70" stroke="#3a3a3a" stroke-width="1.0"/>
<line x1="312.80" y1="382.50" x2="316.20" y2="382.50" stroke="#222" stroke-width="1.4"/>
<line x1="323.50" y1="412.30" x2="323.50" y2="393.80" stroke="#3a3a3a" stroke-width="1.0"/>
<line x1="321.80" y1="393.60" x2="325.20" y2="393.60" stroke="#222" stroke-width="1.4"/>
<line x1="333.50" y1="435.80" x2="333.50" y2="433.50" stroke="#3a3a3a" stroke-width="1.0"/>
<line x1="331.80" y1="433.30" x2="335.20" y2="433.30" stroke="#222" stroke-width="1.4"/>
<line x1="349.50" y1="433.00" x2="349.50" y2="429.40" stroke="#3a3a3a" stroke-width="1.0"/>
<line x1="347.80" y1="429.20" x2="351.20" y2="429.20" stroke="#222" stroke-width="1.4"/>
<line x1="359.50" y1="440.00" x2="359.50" y2="439.50" stroke="#3a3a3a" stroke-width="1.0"/>
<line x1="357.80" y1="439.30" x2="361.20" y2="439.30" stroke="#222" stroke-width="1.4"/>
<line x1="368.50" y1="443.40" x2="368.50" y2="445.70" stroke="#3a3a3a" stroke-width="1.0"/>
<line x1="366.80" y1="445.50" x2="370.20" y2="445.50" stroke="#222" stroke-width="1.4"/>
<rect x="348.10" y="270.00" width="9.20" height="4.30" fill="#a3002a"/>
<text x="359.97" y="274.90" font-size="8.3" textLength="70.58" lengthAdjust="spacingAndGlyphs">HL/3ST/4-1BB/CD3ζ</text>
<rect x="348.10" y="282.00" width="9.20" height="4.30" fill="#2c4878"/>
<text x="359.97" y="286.90" font-size="8.3" textLength="70.58" lengthAdjust="spacingAndGlyphs">LH/3ST/4-1BB/CD3ζ</text>
<rect x="348.10" y="294.00" width="9.20" height="4.30" fill="#6aa843"/>
<text x="359.97" y="298.90" font-size="8.3" textLength="29.22" lengthAdjust="spacingAndGlyphs">BCMA-2</text>
<text x="71.60" y="465.20" font-size="8" text-anchor="middle">K562</text>
<text x="106.80" y="465.20" font-size="8" text-anchor="middle">K562/</text>
<text x="141.60" y="465.20" font-size="8" text-anchor="middle">8226</text>
<text x="177.10" y="465.20" font-size="8" text-anchor="middle">U266</text>
<text x="106.80" y="475.20" font-size="8" text-anchor="middle">BCMA</text>
<text x="253.60" y="464.90" font-size="8" text-anchor="middle">K562</text>
<text x="288.20" y="464.90" font-size="8" text-anchor="middle">K562/</text>
<text x="322.80" y="464.90" font-size="8" text-anchor="middle">8226</text>
<text x="357.40" y="464.90" font-size="8" text-anchor="middle">U266</text>
<text x="288.20" y="474.20" font-size="8" text-anchor="middle">BCMA</text>
<text x="6.90" y="498.00" font-size="12.4" font-weight="bold" textLength="7.34" lengthAdjust="spacingAndGlyphs">F</text>
<text x="317.77" y="497.60" font-size="12.2" font-weight="bold" textLength="10.03" lengthAdjust="spacingAndGlyphs">G</text>
<text x="71.63" y="503.40" font-size="8.3" textLength="21.47" lengthAdjust="spacingAndGlyphs">K562/</text>
<text x="70.53" y="512.80" font-size="8.3" textLength="23.69" lengthAdjust="spacingAndGlyphs">BCMA</text>
<text x="137.07" y="503.60" font-size="8.3" textLength="19.49" lengthAdjust="spacingAndGlyphs">U266</text>
<text x="201.53" y="503.60" font-size="8.3" textLength="18.84" lengthAdjust="spacingAndGlyphs">8226</text>
<text x="265.34" y="503.60" font-size="8.3" textLength="18.87" lengthAdjust="spacingAndGlyphs">K562</text>
<text x="34.79" y="516.90" font-size="8.3" textLength="16.20" lengthAdjust="spacingAndGlyphs">CD4</text>
<text x="21.44" y="526.30" font-size="8.3" textLength="29.31" lengthAdjust="spacingAndGlyphs">HL/3ST/</text>
<text x="6.11" y="537.90" font-size="8.3" textLength="44.79" lengthAdjust="spacingAndGlyphs">4-1BB/CD3ζ</text>
<text x="21.24" y="549.60" font-size="8.3" textLength="29.51" lengthAdjust="spacingAndGlyphs">LH/3ST/</text>
<text x="6.11" y="561.20" font-size="8.3" textLength="44.79" lengthAdjust="spacingAndGlyphs">4-1BB/CD3ζ</text>
<text x="20.13" y="573.00" font-size="8.3" textLength="31.04" lengthAdjust="spacingAndGlyphs">BCMA-2</text>
<text x="34.79" y="587.50" font-size="8.3" textLength="16.32" lengthAdjust="spacingAndGlyphs">CD8</text>
<text x="21.44" y="597.60" font-size="8.3" textLength="29.31" lengthAdjust="spacingAndGlyphs">HL/3ST/</text>
<text x="6.11" y="608.90" font-size="8.3" textLength="44.79" lengthAdjust="spacingAndGlyphs">4-1BB/CD3ζ</text>
<text x="21.24" y="619.90" font-size="8.3" textLength="29.51" lengthAdjust="spacingAndGlyphs">LH/3ST/</text>
<text x="6.11" y="631.00" font-size="8.3" textLength="44.79" lengthAdjust="spacingAndGlyphs">4-1BB/CD3ζ</text>
<text x="20.13" y="642.20" font-size="8.3" textLength="31.04" lengthAdjust="spacingAndGlyphs">BCMA-2</text>
<text x="332.43" y="528.60" font-size="8.3" textLength="30.07" lengthAdjust="spacingAndGlyphs">HL/3ST/</text>
<text x="317.61" y="538.90" font-size="8.3" textLength="45.04" lengthAdjust="spacingAndGlyphs">4-1BB/CD3ζ</text>
<text x="332.43" y="549.60" font-size="8.3" textLength="30.07" lengthAdjust="spacingAndGlyphs">LH/3ST/</text>
<text x="317.61" y="560.00" font-size="8.3" textLength="45.04" lengthAdjust="spacingAndGlyphs">4-1BB/CD3ζ</text>
<text x="331.21" y="571.30" font-size="8.3" textLength="31.71" lengthAdjust="spacingAndGlyphs">BCMA-2</text>
<text x="375.24" y="585.70" font-size="8.3" textLength="36.27" lengthAdjust="spacingAndGlyphs">BCMA/FC</text>
<line x1="80.20" y1="654.60" x2="252.00" y2="654.60" stroke="#111" stroke-width="1.2"/>
<path d="M257.4,654.6 L250.0,652.2 L251.4,654.6 L250.0,657.0 Z" fill="#111"/>
<text x="260.89" y="657.60" font-size="10.4" textLength="16.27" lengthAdjust="spacingAndGlyphs">CFSE</text>
<rect x="55.50" y="518.50" width="54.70" height="54.50" fill="#ffffff" stroke="#000" stroke-width="1.0"/>
<line x1="56.00" y1="546.00" x2="109.70" y2="546.00" stroke="#d0708a" stroke-width="1.8"/>
<path d="M75.00,546.00 C75.33,545.58 76.33,544.75 77.00,543.50 C77.67,542.25 78.42,539.92 79.00,538.50 C79.58,537.08 80.00,536.42 80.50,535.00 C81.00,533.58 81.50,531.83 82.00,530.00 C82.50,528.17 82.97,525.60 83.50,524.00 C84.03,522.40 84.70,520.57 85.20,520.40 C85.70,520.23 86.12,521.73 86.50,523.00 C86.88,524.27 87.08,526.67 87.50,528.00 C87.92,529.33 88.50,530.17 89.00,531.00 C89.50,531.83 90.00,531.83 90.50,533.00 C91.00,534.17 91.42,536.67 92.00,538.00 C92.58,539.33 93.33,540.17 94.00,541.00 C94.67,541.83 95.33,542.42 96.00,543.00 C96.67,543.58 97.17,544.08 98.00,544.50 C98.83,544.92 100.00,545.25 101.00,545.50 C102.00,545.75 103.50,545.92 104.00,546.00 L104.00,546.60 L75.00,546.60 Z" fill="#a3002a"/>
<line x1="56.00" y1="559.70" x2="109.70" y2="559.70" stroke="#6f86ad" stroke-width="1.3"/>
<path d="M75.00,559.70 C75.33,559.33 76.33,558.45 77.00,557.50 C77.67,556.55 78.42,555.42 79.00,554.00 C79.58,552.58 80.00,551.00 80.50,549.00 C81.00,547.00 81.58,543.83 82.00,542.00 C82.42,540.17 82.65,539.03 83.00,538.00 C83.35,536.97 83.68,535.80 84.10,535.80 C84.52,535.80 85.02,536.97 85.50,538.00 C85.98,539.03 86.42,540.50 87.00,542.00 C87.58,543.50 88.42,545.67 89.00,547.00 C89.58,548.33 90.00,549.00 90.50,550.00 C91.00,551.00 91.42,552.08 92.00,553.00 C92.58,553.92 93.33,554.83 94.00,555.50 C94.67,556.17 95.33,556.50 96.00,557.00 C96.67,557.50 97.17,558.05 98.00,558.50 C98.83,558.95 100.50,559.50 101.00,559.70 L101.00,560.30 L75.00,560.30 Z" fill="#2c4878"/>
<path d="M56.00,573.00 C59.78,573.00 74.53,573.33 78.70,573.00 C82.87,572.67 80.17,571.68 81.00,571.00 C81.83,570.32 82.83,570.82 83.70,568.90 C84.57,566.98 85.25,562.32 86.20,559.50 C87.15,556.68 88.57,553.87 89.40,552.00 C90.23,550.13 90.58,547.88 91.20,548.30 C91.82,548.72 92.47,552.43 93.10,554.50 C93.73,556.57 94.27,558.62 95.00,560.70 C95.73,562.78 96.67,565.33 97.50,567.00 C98.33,568.67 98.97,569.77 100.00,570.70 C101.03,571.63 102.70,572.22 103.70,572.60 C104.70,572.98 105.00,572.93 106.00,573.00 C107.00,573.07 109.08,573.00 109.70,573.00" fill="none" stroke="#6ab04c" stroke-width="0.9" stroke-linejoin="round"/>
<path d="M55.80,573.00 v3.2 M60.59,573.00 v1.9 M63.39,573.00 v1.9 M65.37,573.00 v1.9 M66.91,573.00 v1.9 M68.17,573.00 v1.9 M69.24,573.00 v1.9 M70.16,573.00 v1.9 M70.97,573.00 v1.9 M71.70,573.00 v3.2 M76.49,573.00 v1.9 M79.29,573.00 v1.9 M81.27,573.00 v1.9 M82.81,573.00 v1.9 M84.07,573.00 v1.9 M85.14,573.00 v1.9 M86.06,573.00 v1.9 M86.87,573.00 v1.9 M87.60,573.00 v3.2 M92.39,573.00 v1.9 M95.19,573.00 v1.9 M97.17,573.00 v1.9 M98.71,573.00 v1.9 M99.97,573.00 v1.9 M101.04,573.00 v1.9 M101.96,573.00 v1.9 M102.77,573.00 v1.9 M103.50,573.00 v3.2 M108.29,573.00 v1.9" fill="none" stroke="#333" stroke-width="0.8"/>
<rect x="119.50" y="518.50" width="54.70" height="54.50" fill="#ffffff" stroke="#000" stroke-width="1.0"/>
<line x1="120.00" y1="546.00" x2="173.70" y2="546.00" stroke="#d0708a" stroke-width="1.8"/>
<path d="M140.00,546.00 C140.33,545.67 141.42,545.00 142.00,544.00 C142.58,543.00 143.00,541.50 143.50,540.00 C144.00,538.50 144.50,536.83 145.00,535.00 C145.50,533.17 146.00,530.83 146.50,529.00 C147.00,527.17 147.53,525.30 148.00,524.00 C148.47,522.70 148.88,521.20 149.30,521.20 C149.72,521.20 150.05,522.95 150.50,524.00 C150.95,525.05 151.50,526.67 152.00,527.50 C152.50,528.33 153.00,528.58 153.50,529.00 C154.00,529.42 154.58,529.17 155.00,530.00 C155.42,530.83 155.67,532.75 156.00,534.00 C156.33,535.25 156.58,536.42 157.00,537.50 C157.42,538.58 158.00,539.67 158.50,540.50 C159.00,541.33 159.33,541.83 160.00,542.50 C160.67,543.17 161.67,544.00 162.50,544.50 C163.33,545.00 164.08,545.25 165.00,545.50 C165.92,545.75 167.50,545.92 168.00,546.00 L168.00,546.60 L140.00,546.60 Z" fill="#a3002a"/>
<line x1="120.00" y1="559.70" x2="173.70" y2="559.70" stroke="#6f86ad" stroke-width="1.3"/>
<path d="M140.00,559.70 C140.33,559.42 141.42,558.78 142.00,558.00 C142.58,557.22 143.00,556.67 143.50,555.00 C144.00,553.33 144.50,550.50 145.00,548.00 C145.50,545.50 146.03,542.08 146.50,540.00 C146.97,537.92 147.30,536.33 147.80,535.50 C148.30,534.67 148.97,534.92 149.50,535.00 C150.03,535.08 150.50,536.00 151.00,536.00 C151.50,536.00 152.00,534.83 152.50,535.00 C153.00,535.17 153.50,535.83 154.00,537.00 C154.50,538.17 155.00,540.33 155.50,542.00 C156.00,543.67 156.50,545.50 157.00,547.00 C157.50,548.50 158.00,549.83 158.50,551.00 C159.00,552.17 159.42,553.08 160.00,554.00 C160.58,554.92 161.17,555.75 162.00,556.50 C162.83,557.25 164.00,557.97 165.00,558.50 C166.00,559.03 167.50,559.50 168.00,559.70 L168.00,560.30 L140.00,560.30 Z" fill="#2c4878"/>
<path d="M120.00,573.00 C123.43,573.00 136.77,573.25 140.60,573.00 C144.43,572.75 142.27,572.17 143.00,571.50 C143.73,570.83 144.33,570.08 145.00,569.00 C145.67,567.92 146.33,566.50 147.00,565.00 C147.67,563.50 148.33,561.67 149.00,560.00 C149.67,558.33 150.33,556.67 151.00,555.00 C151.67,553.33 152.33,551.25 153.00,550.00 C153.67,548.75 154.42,547.50 155.00,547.50 C155.58,547.50 156.00,548.75 156.50,550.00 C157.00,551.25 157.50,553.33 158.00,555.00 C158.50,556.67 159.00,558.67 159.50,560.00 C160.00,561.33 160.50,562.00 161.00,563.00 C161.50,564.00 162.00,565.00 162.50,566.00 C163.00,567.00 163.42,568.00 164.00,569.00 C164.58,570.00 165.33,571.33 166.00,572.00 C166.67,572.67 166.72,572.83 168.00,573.00 C169.28,573.17 172.75,573.00 173.70,573.00" fill="none" stroke="#6ab04c" stroke-width="0.9" stroke-linejoin="round"/>
<path d="M119.80,573.00 v3.2 M124.59,573.00 v1.9 M127.39,573.00 v1.9 M129.37,573.00 v1.9 M130.91,573.00 v1.9 M132.17,573.00 v1.9 M133.24,573.00 v1.9 M134.16,573.00 v1.9 M134.97,573.00 v1.9 M135.70,573.00 v3.2 M140.49,573.00 v1.9 M143.29,573.00 v1.9 M145.27,573.00 v1.9 M146.81,573.00 v1.9 M148.07,573.00 v1.9 M149.14,573.00 v1.9 M150.06,573.00 v1.9 M150.87,573.00 v1.9 M151.60,573.00 v3.2 M156.39,573.00 v1.9 M159.19,573.00 v1.9 M161.17,573.00 v1.9 M162.71,573.00 v1.9 M163.97,573.00 v1.9 M165.04,573.00 v1.9 M165.96,573.00 v1.9 M166.77,573.00 v1.9 M167.50,573.00 v3.2 M172.29,573.00 v1.9" fill="none" stroke="#333" stroke-width="0.8"/>
<rect x="183.50" y="518.50" width="54.70" height="54.50" fill="#ffffff" stroke="#000" stroke-width="1.0"/>
<line x1="184.00" y1="546.00" x2="237.70" y2="546.00" stroke="#d0708a" stroke-width="1.8"/>
<path d="M206.80,546.00 C207.08,545.67 207.97,545.00 208.50,544.00 C209.03,543.00 209.50,541.67 210.00,540.00 C210.50,538.33 211.00,536.17 211.50,534.00 C212.00,531.83 212.43,529.13 213.00,527.00 C213.57,524.87 214.40,521.70 214.90,521.20 C215.40,520.70 215.65,522.70 216.00,524.00 C216.35,525.30 216.67,527.67 217.00,529.00 C217.33,530.33 217.58,531.17 218.00,532.00 C218.42,532.83 219.08,533.00 219.50,534.00 C219.92,535.00 220.17,536.67 220.50,538.00 C220.83,539.33 221.08,540.92 221.50,542.00 C221.92,543.08 222.25,543.83 223.00,544.50 C223.75,545.17 225.50,545.75 226.00,546.00 L226.00,546.60 L206.80,546.60 Z" fill="#a3002a"/>
<line x1="184.00" y1="559.70" x2="237.70" y2="559.70" stroke="#6f86ad" stroke-width="1.3"/>
<path d="M208.70,559.70 C208.92,559.25 209.62,558.12 210.00,557.00 C210.38,555.88 210.58,554.50 211.00,553.00 C211.42,551.50 212.00,549.50 212.50,548.00 C213.00,546.50 213.50,545.33 214.00,544.00 C214.50,542.67 215.00,541.17 215.50,540.00 C216.00,538.83 216.53,537.83 217.00,537.00 C217.47,536.17 217.88,534.83 218.30,535.00 C218.72,535.17 219.05,536.67 219.50,538.00 C219.95,539.33 220.58,541.67 221.00,543.00 C221.42,544.33 221.58,545.00 222.00,546.00 C222.42,547.00 223.00,548.00 223.50,549.00 C224.00,550.00 224.50,551.00 225.00,552.00 C225.50,553.00 226.00,554.08 226.50,555.00 C227.00,555.92 227.42,556.72 228.00,557.50 C228.58,558.28 229.67,559.33 230.00,559.70 L230.00,560.30 L208.70,560.30 Z" fill="#2c4878"/>
<path d="M184.00,573.00 C188.33,573.00 205.33,573.50 210.00,573.00 C214.67,572.50 211.33,571.33 212.00,570.00 C212.67,568.67 213.33,566.83 214.00,565.00 C214.67,563.17 215.33,561.17 216.00,559.00 C216.67,556.83 217.47,553.82 218.00,552.00 C218.53,550.18 218.82,548.10 219.20,548.10 C219.58,548.10 219.97,550.68 220.30,552.00 C220.63,553.32 220.83,555.67 221.20,556.00 C221.57,556.33 222.12,554.50 222.50,554.00 C222.88,553.50 223.17,552.67 223.50,553.00 C223.83,553.33 224.17,554.50 224.50,556.00 C224.83,557.50 225.08,560.33 225.50,562.00 C225.92,563.67 226.50,564.67 227.00,566.00 C227.50,567.33 228.00,568.92 228.50,570.00 C229.00,571.08 229.42,572.00 230.00,572.50 C230.58,573.00 230.72,572.92 232.00,573.00 C233.28,573.08 236.75,573.00 237.70,573.00" fill="none" stroke="#6ab04c" stroke-width="0.9" stroke-linejoin="round"/>
<path d="M183.80,573.00 v3.2 M188.59,573.00 v1.9 M191.39,573.00 v1.9 M193.37,573.00 v1.9 M194.91,573.00 v1.9 M196.17,573.00 v1.9 M197.24,573.00 v1.9 M198.16,573.00 v1.9 M198.97,573.00 v1.9 M199.70,573.00 v3.2 M204.49,573.00 v1.9 M207.29,573.00 v1.9 M209.27,573.00 v1.9 M210.81,573.00 v1.9 M212.07,573.00 v1.9 M213.14,573.00 v1.9 M214.06,573.00 v1.9 M214.87,573.00 v1.9 M215.60,573.00 v3.2 M220.39,573.00 v1.9 M223.19,573.00 v1.9 M225.17,573.00 v1.9 M226.71,573.00 v1.9 M227.97,573.00 v1.9 M229.04,573.00 v1.9 M229.96,573.00 v1.9 M230.77,573.00 v1.9 M231.50,573.00 v3.2 M236.29,573.00 v1.9" fill="none" stroke="#333" stroke-width="0.8"/>
<rect x="247.50" y="518.50" width="54.70" height="54.50" fill="#ffffff" stroke="#000" stroke-width="1.0"/>
<line x1="248.00" y1="546.00" x2="301.70" y2="546.00" stroke="#d0708a" stroke-width="1.8"/>
<path d="M283.60,546.00 C283.92,545.67 284.93,545.00 285.50,544.00 C286.07,543.00 286.50,541.67 287.00,540.00 C287.50,538.33 288.00,535.92 288.50,534.00 C289.00,532.08 289.55,529.92 290.00,528.50 C290.45,527.08 290.82,526.08 291.20,525.50 C291.58,524.92 291.92,525.00 292.30,525.00 C292.68,525.00 293.13,525.00 293.50,525.50 C293.87,526.00 294.17,526.75 294.50,528.00 C294.83,529.25 295.17,531.17 295.50,533.00 C295.83,534.83 296.17,537.25 296.50,539.00 C296.83,540.75 297.08,542.42 297.50,543.50 C297.92,544.58 298.42,545.08 299.00,545.50 C299.58,545.92 300.67,545.92 301.00,546.00 L301.00,546.60 L283.60,546.60 Z" fill="#a3002a"/>
<line x1="248.00" y1="559.70" x2="301.70" y2="559.70" stroke="#6f86ad" stroke-width="1.3"/>
<path d="M283.60,559.70 C283.92,559.42 284.93,558.78 285.50,558.00 C286.07,557.22 286.50,556.50 287.00,555.00 C287.50,553.50 288.03,551.33 288.50,549.00 C288.97,546.67 289.40,542.95 289.80,541.00 C290.20,539.05 290.53,537.47 290.90,537.30 C291.27,537.13 291.60,538.55 292.00,540.00 C292.40,541.45 292.88,544.00 293.30,546.00 C293.72,548.00 294.13,550.33 294.50,552.00 C294.87,553.67 295.08,554.92 295.50,556.00 C295.92,557.08 296.42,557.88 297.00,558.50 C297.58,559.12 298.67,559.50 299.00,559.70 L299.00,560.30 L283.60,560.30 Z" fill="#2c4878"/>
<path d="M248.00,573.00 C253.83,573.00 276.83,573.25 283.00,573.00 C289.17,572.75 284.33,572.33 285.00,571.50 C285.67,570.67 286.33,569.58 287.00,568.00 C287.67,566.42 288.33,564.00 289.00,562.00 C289.67,560.00 290.40,557.52 291.00,556.00 C291.60,554.48 292.10,553.07 292.60,552.90 C293.10,552.73 293.52,553.65 294.00,555.00 C294.48,556.35 295.00,559.00 295.50,561.00 C296.00,563.00 296.50,565.33 297.00,567.00 C297.50,568.67 298.00,570.00 298.50,571.00 C299.00,572.00 299.47,572.67 300.00,573.00 C300.53,573.33 301.42,573.00 301.70,573.00" fill="none" stroke="#6ab04c" stroke-width="0.9" stroke-linejoin="round"/>
<path d="M247.80,573.00 v3.2 M252.59,573.00 v1.9 M255.39,573.00 v1.9 M257.37,573.00 v1.9 M258.91,573.00 v1.9 M260.17,573.00 v1.9 M261.24,573.00 v1.9 M262.16,573.00 v1.9 M262.97,573.00 v1.9 M263.70,573.00 v3.2 M268.49,573.00 v1.9 M271.29,573.00 v1.9 M273.27,573.00 v1.9 M274.81,573.00 v1.9 M276.07,573.00 v1.9 M277.14,573.00 v1.9 M278.06,573.00 v1.9 M278.87,573.00 v1.9 M279.60,573.00 v3.2 M284.39,573.00 v1.9 M287.19,573.00 v1.9 M289.17,573.00 v1.9 M290.71,573.00 v1.9 M291.97,573.00 v1.9 M293.04,573.00 v1.9 M293.96,573.00 v1.9 M294.77,573.00 v1.9 M295.50,573.00 v3.2 M300.29,573.00 v1.9" fill="none" stroke="#333" stroke-width="0.8"/>
<rect x="55.50" y="588.50" width="54.70" height="54.50" fill="#ffffff" stroke="#000" stroke-width="1.0"/>
<line x1="56.00" y1="615.60" x2="109.70" y2="615.60" stroke="#d0708a" stroke-width="1.8"/>
<path d="M79.40,615.60 C79.75,615.00 80.90,613.60 81.50,612.00 C82.10,610.40 82.50,608.33 83.00,606.00 C83.50,603.67 84.03,600.33 84.50,598.00 C84.97,595.67 85.45,593.12 85.80,592.00 C86.15,590.88 86.32,591.22 86.60,591.30 C86.88,591.38 87.18,592.13 87.50,592.50 C87.82,592.87 88.17,593.25 88.50,593.50 C88.83,593.75 89.17,593.42 89.50,594.00 C89.83,594.58 90.17,595.50 90.50,597.00 C90.83,598.50 91.17,601.33 91.50,603.00 C91.83,604.67 92.08,605.83 92.50,607.00 C92.92,608.17 93.42,609.17 94.00,610.00 C94.58,610.83 95.33,611.42 96.00,612.00 C96.67,612.58 97.33,613.08 98.00,613.50 C98.67,613.92 99.17,614.15 100.00,614.50 C100.83,614.85 102.50,615.42 103.00,615.60 L103.00,616.20 L79.40,616.20 Z" fill="#a3002a"/>
<line x1="56.00" y1="629.40" x2="109.70" y2="629.40" stroke="#6f86ad" stroke-width="1.3"/>
<path d="M83.10,629.40 C83.33,628.67 84.10,626.73 84.50,625.00 C84.90,623.27 85.17,621.00 85.50,619.00 C85.83,617.00 86.08,614.83 86.50,613.00 C86.92,611.17 87.46,609.33 88.00,608.00 C88.54,606.67 89.25,605.17 89.75,605.00 C90.25,604.83 90.54,606.17 91.00,607.00 C91.46,607.83 92.00,608.83 92.50,610.00 C93.00,611.17 93.50,612.83 94.00,614.00 C94.50,615.17 95.08,616.25 95.50,617.00 C95.92,617.75 96.17,618.42 96.50,618.50 C96.83,618.58 97.17,617.58 97.50,617.50 C97.83,617.42 98.08,617.58 98.50,618.00 C98.92,618.42 99.50,619.33 100.00,620.00 C100.50,620.67 101.00,621.17 101.50,622.00 C102.00,622.83 102.50,624.00 103.00,625.00 C103.50,626.00 104.00,627.27 104.50,628.00 C105.00,628.73 105.75,629.17 106.00,629.40 L106.00,630.00 L83.10,630.00 Z" fill="#2c4878"/>
<path d="M56.00,643.00 C59.90,642.97 75.23,643.30 79.40,642.80 C83.57,642.30 80.40,641.13 81.00,640.00 C81.60,638.87 82.33,637.33 83.00,636.00 C83.67,634.67 84.33,633.00 85.00,632.00 C85.67,631.00 86.33,630.58 87.00,630.00 C87.67,629.42 88.42,629.17 89.00,628.50 C89.58,627.83 90.00,626.25 90.50,626.00 C91.00,625.75 91.50,627.17 92.00,627.00 C92.50,626.83 93.08,625.17 93.50,625.00 C93.92,624.83 94.17,625.50 94.50,626.00 C94.83,626.50 95.17,628.25 95.50,628.00 C95.83,627.75 96.17,625.33 96.50,624.50 C96.83,623.67 97.17,622.58 97.50,623.00 C97.83,623.42 98.17,625.33 98.50,627.00 C98.83,628.67 99.17,631.17 99.50,633.00 C99.83,634.83 100.08,636.42 100.50,638.00 C100.92,639.58 101.42,641.70 102.00,642.50 C102.58,643.30 102.72,642.72 104.00,642.80 C105.28,642.88 108.75,642.97 109.70,643.00" fill="none" stroke="#6ab04c" stroke-width="0.9" stroke-linejoin="round"/>
<path d="M55.80,643.00 v3.2 M60.59,643.00 v1.9 M63.39,643.00 v1.9 M65.37,643.00 v1.9 M66.91,643.00 v1.9 M68.17,643.00 v1.9 M69.24,643.00 v1.9 M70.16,643.00 v1.9 M70.97,643.00 v1.9 M71.70,643.00 v3.2 M76.49,643.00 v1.9 M79.29,643.00 v1.9 M81.27,643.00 v1.9 M82.81,643.00 v1.9 M84.07,643.00 v1.9 M85.14,643.00 v1.9 M86.06,643.00 v1.9 M86.87,643.00 v1.9 M87.60,643.00 v3.2 M92.39,643.00 v1.9 M95.19,643.00 v1.9 M97.17,643.00 v1.9 M98.71,643.00 v1.9 M99.97,643.00 v1.9 M101.04,643.00 v1.9 M101.96,643.00 v1.9 M102.77,643.00 v1.9 M103.50,643.00 v3.2 M108.29,643.00 v1.9" fill="none" stroke="#333" stroke-width="0.8"/>
<rect x="119.50" y="588.50" width="54.70" height="54.50" fill="#ffffff" stroke="#000" stroke-width="1.0"/>
<line x1="120.00" y1="615.60" x2="173.70" y2="615.60" stroke="#d0708a" stroke-width="1.8"/>
<path d="M141.90,615.60 C142.17,615.00 142.98,613.60 143.50,612.00 C144.02,610.40 144.50,608.17 145.00,606.00 C145.50,603.83 146.00,600.83 146.50,599.00 C147.00,597.17 147.50,596.08 148.00,595.00 C148.50,593.92 149.07,593.02 149.50,592.50 C149.93,591.98 150.27,591.65 150.60,591.90 C150.93,592.15 151.18,593.15 151.50,594.00 C151.82,594.85 152.17,596.33 152.50,597.00 C152.83,597.67 153.17,597.33 153.50,598.00 C153.83,598.67 154.17,599.50 154.50,601.00 C154.83,602.50 155.17,605.33 155.50,607.00 C155.83,608.67 156.08,609.92 156.50,611.00 C156.92,612.08 157.42,612.87 158.00,613.50 C158.58,614.13 159.17,614.45 160.00,614.80 C160.83,615.15 162.50,615.47 163.00,615.60 L163.00,616.20 L141.90,616.20 Z" fill="#a3002a"/>
<line x1="120.00" y1="629.40" x2="173.70" y2="629.40" stroke="#6f86ad" stroke-width="1.3"/>
<path d="M145.00,629.40 C145.33,628.83 146.42,627.40 147.00,626.00 C147.58,624.60 148.00,622.67 148.50,621.00 C149.00,619.33 149.50,617.50 150.00,616.00 C150.50,614.50 151.00,613.50 151.50,612.00 C152.00,610.50 152.58,608.10 153.00,607.00 C153.42,605.90 153.67,605.23 154.00,605.40 C154.33,605.57 154.67,606.90 155.00,608.00 C155.33,609.10 155.58,611.83 156.00,612.00 C156.42,612.17 157.08,609.95 157.50,609.00 C157.92,608.05 158.17,606.13 158.50,606.30 C158.83,606.47 159.17,608.38 159.50,610.00 C159.83,611.62 160.08,614.50 160.50,616.00 C160.92,617.50 161.50,618.00 162.00,619.00 C162.50,620.00 163.08,620.83 163.50,622.00 C163.92,623.17 164.08,624.77 164.50,626.00 C164.92,627.23 165.75,628.83 166.00,629.40 L166.00,630.00 L145.00,630.00 Z" fill="#2c4878"/>
<path d="M120.00,643.00 C124.07,642.97 140.07,643.13 144.40,642.80 C148.73,642.47 145.40,641.97 146.00,641.00 C146.60,640.03 147.33,638.33 148.00,637.00 C148.67,635.67 149.33,634.17 150.00,633.00 C150.67,631.83 151.42,631.00 152.00,630.00 C152.58,629.00 153.00,627.83 153.50,627.00 C154.00,626.17 154.58,625.00 155.00,625.00 C155.42,625.00 155.67,626.00 156.00,627.00 C156.33,628.00 156.67,630.83 157.00,631.00 C157.33,631.17 157.58,629.00 158.00,628.00 C158.42,627.00 159.08,625.17 159.50,625.00 C159.92,624.83 160.17,626.17 160.50,627.00 C160.83,627.83 161.17,630.00 161.50,630.00 C161.83,630.00 162.17,627.83 162.50,627.00 C162.83,626.17 163.17,624.50 163.50,625.00 C163.83,625.50 164.17,628.00 164.50,630.00 C164.83,632.00 165.17,635.17 165.50,637.00 C165.83,638.83 166.08,640.03 166.50,641.00 C166.92,641.97 166.80,642.47 168.00,642.80 C169.20,643.13 172.75,642.97 173.70,643.00" fill="none" stroke="#6ab04c" stroke-width="0.9" stroke-linejoin="round"/>
<path d="M119.80,643.00 v3.2 M124.59,643.00 v1.9 M127.39,643.00 v1.9 M129.37,643.00 v1.9 M130.91,643.00 v1.9 M132.17,643.00 v1.9 M133.24,643.00 v1.9 M134.16,643.00 v1.9 M134.97,643.00 v1.9 M135.70,643.00 v3.2 M140.49,643.00 v1.9 M143.29,643.00 v1.9 M145.27,643.00 v1.9 M146.81,643.00 v1.9 M148.07,643.00 v1.9 M149.14,643.00 v1.9 M150.06,643.00 v1.9 M150.87,643.00 v1.9 M151.60,643.00 v3.2 M156.39,643.00 v1.9 M159.19,643.00 v1.9 M161.17,643.00 v1.9 M162.71,643.00 v1.9 M163.97,643.00 v1.9 M165.04,643.00 v1.9 M165.96,643.00 v1.9 M166.77,643.00 v1.9 M167.50,643.00 v3.2 M172.29,643.00 v1.9" fill="none" stroke="#333" stroke-width="0.8"/>
<rect x="183.50" y="588.50" width="54.70" height="54.50" fill="#ffffff" stroke="#000" stroke-width="1.0"/>
<line x1="184.00" y1="615.60" x2="237.70" y2="615.60" stroke="#d0708a" stroke-width="1.8"/>
<path d="M206.80,615.60 C207.08,615.00 207.97,613.60 208.50,612.00 C209.03,610.40 209.50,608.00 210.00,606.00 C210.50,604.00 211.00,602.00 211.50,600.00 C212.00,598.00 212.48,595.50 213.00,594.00 C213.52,592.50 214.13,591.00 214.60,591.00 C215.07,591.00 215.40,592.50 215.80,594.00 C216.20,595.50 216.63,598.50 217.00,600.00 C217.37,601.50 217.58,602.17 218.00,603.00 C218.42,603.83 219.08,604.00 219.50,605.00 C219.92,606.00 220.17,607.83 220.50,609.00 C220.83,610.17 221.08,611.17 221.50,612.00 C221.92,612.83 222.42,613.50 223.00,614.00 C223.58,614.50 224.17,614.73 225.00,615.00 C225.83,615.27 227.50,615.50 228.00,615.60 L228.00,616.20 L206.80,616.20 Z" fill="#a3002a"/>
<line x1="184.00" y1="629.40" x2="237.70" y2="629.40" stroke="#6f86ad" stroke-width="1.3"/>
<path d="M208.60,629.40 C208.92,628.83 209.93,627.23 210.50,626.00 C211.07,624.77 211.50,623.50 212.00,622.00 C212.50,620.50 213.00,618.67 213.50,617.00 C214.00,615.33 214.50,613.67 215.00,612.00 C215.50,610.33 216.00,608.37 216.50,607.00 C217.00,605.63 217.58,603.80 218.00,603.80 C218.42,603.80 218.67,605.80 219.00,607.00 C219.33,608.20 219.67,609.67 220.00,611.00 C220.33,612.33 220.58,613.83 221.00,615.00 C221.42,616.17 222.00,617.17 222.50,618.00 C223.00,618.83 223.50,619.17 224.00,620.00 C224.50,620.83 225.00,621.83 225.50,623.00 C226.00,624.17 226.42,625.93 227.00,627.00 C227.58,628.07 228.67,629.00 229.00,629.40 L229.00,630.00 L208.60,630.00 Z" fill="#2c4878"/>
<path d="M184.00,643.00 C188.32,642.97 205.32,643.30 209.90,642.80 C214.48,642.30 210.98,641.13 211.50,640.00 C212.02,638.87 212.50,637.33 213.00,636.00 C213.50,634.67 214.00,633.33 214.50,632.00 C215.00,630.67 215.50,629.50 216.00,628.00 C216.50,626.50 216.97,624.65 217.50,623.00 C218.03,621.35 218.75,618.27 219.20,618.10 C219.65,617.93 219.90,620.52 220.20,622.00 C220.50,623.48 220.70,626.50 221.00,627.00 C221.30,627.50 221.67,625.75 222.00,625.00 C222.33,624.25 222.67,622.83 223.00,622.50 C223.33,622.17 223.67,622.08 224.00,623.00 C224.33,623.92 224.67,626.33 225.00,628.00 C225.33,629.67 225.67,631.83 226.00,633.00 C226.33,634.17 226.67,634.50 227.00,635.00 C227.33,635.50 227.67,635.42 228.00,636.00 C228.33,636.58 228.67,637.67 229.00,638.50 C229.33,639.33 229.58,640.28 230.00,641.00 C230.42,641.72 230.22,642.47 231.50,642.80 C232.78,643.13 236.67,642.97 237.70,643.00" fill="none" stroke="#6ab04c" stroke-width="0.9" stroke-linejoin="round"/>
<path d="M183.80,643.00 v3.2 M188.59,643.00 v1.9 M191.39,643.00 v1.9 M193.37,643.00 v1.9 M194.91,643.00 v1.9 M196.17,643.00 v1.9 M197.24,643.00 v1.9 M198.16,643.00 v1.9 M198.97,643.00 v1.9 M199.70,643.00 v3.2 M204.49,643.00 v1.9 M207.29,643.00 v1.9 M209.27,643.00 v1.9 M210.81,643.00 v1.9 M212.07,643.00 v1.9 M213.14,643.00 v1.9 M214.06,643.00 v1.9 M214.87,643.00 v1.9 M215.60,643.00 v3.2 M220.39,643.00 v1.9 M223.19,643.00 v1.9 M225.17,643.00 v1.9 M226.71,643.00 v1.9 M227.97,643.00 v1.9 M229.04,643.00 v1.9 M229.96,643.00 v1.9 M230.77,643.00 v1.9 M231.50,643.00 v3.2 M236.29,643.00 v1.9" fill="none" stroke="#333" stroke-width="0.8"/>
<rect x="247.50" y="588.50" width="54.70" height="54.50" fill="#ffffff" stroke="#000" stroke-width="1.0"/>
<line x1="248.00" y1="615.60" x2="301.70" y2="615.60" stroke="#d0708a" stroke-width="1.8"/>
<path d="M287.50,615.60 C287.83,615.42 288.92,615.43 289.50,614.50 C290.08,613.57 290.53,612.42 291.00,610.00 C291.47,607.58 291.92,602.83 292.30,600.00 C292.68,597.17 292.97,594.60 293.30,593.00 C293.63,591.40 293.97,590.40 294.30,590.40 C294.63,590.40 294.97,591.23 295.30,593.00 C295.63,594.77 295.93,598.17 296.30,601.00 C296.67,603.83 297.08,607.75 297.50,610.00 C297.92,612.25 298.30,613.57 298.80,614.50 C299.30,615.43 300.22,615.42 300.50,615.60 L300.50,616.20 L287.50,616.20 Z" fill="#a3002a"/>
<line x1="248.00" y1="629.40" x2="301.70" y2="629.40" stroke="#6f86ad" stroke-width="1.3"/>
<path d="M288.00,629.40 C288.33,629.17 289.45,629.23 290.00,628.00 C290.55,626.77 290.92,624.33 291.30,622.00 C291.68,619.67 291.98,616.50 292.30,614.00 C292.62,611.50 292.93,608.67 293.20,607.00 C293.47,605.33 293.63,604.00 293.90,604.00 C294.17,604.00 294.52,605.33 294.80,607.00 C295.08,608.67 295.32,611.50 295.60,614.00 C295.88,616.50 296.18,619.67 296.50,622.00 C296.82,624.33 297.08,626.77 297.50,628.00 C297.92,629.23 298.75,629.17 299.00,629.40 L299.00,630.00 L288.00,630.00 Z" fill="#2c4878"/>
<path d="M248.00,643.00 C254.92,642.97 282.42,643.13 289.50,642.80 C296.58,642.47 290.17,642.13 290.50,641.00 C290.83,639.87 291.17,638.17 291.50,636.00 C291.83,633.83 292.17,630.50 292.50,628.00 C292.83,625.50 293.17,622.67 293.50,621.00 C293.83,619.33 294.17,618.00 294.50,618.00 C294.83,618.00 295.17,619.33 295.50,621.00 C295.83,622.67 296.17,625.50 296.50,628.00 C296.83,630.50 297.17,633.83 297.50,636.00 C297.83,638.17 298.17,639.87 298.50,641.00 C298.83,642.13 298.97,642.47 299.50,642.80 C300.03,643.13 301.33,642.97 301.70,643.00" fill="none" stroke="#6ab04c" stroke-width="0.9" stroke-linejoin="round"/>
<path d="M247.80,643.00 v3.2 M252.59,643.00 v1.9 M255.39,643.00 v1.9 M257.37,643.00 v1.9 M258.91,643.00 v1.9 M260.17,643.00 v1.9 M261.24,643.00 v1.9 M262.16,643.00 v1.9 M262.97,643.00 v1.9 M263.70,643.00 v3.2 M268.49,643.00 v1.9 M271.29,643.00 v1.9 M273.27,643.00 v1.9 M274.81,643.00 v1.9 M276.07,643.00 v1.9 M277.14,643.00 v1.9 M278.06,643.00 v1.9 M278.87,643.00 v1.9 M279.60,643.00 v3.2 M284.39,643.00 v1.9 M287.19,643.00 v1.9 M289.17,643.00 v1.9 M290.71,643.00 v1.9 M291.97,643.00 v1.9 M293.04,643.00 v1.9 M293.96,643.00 v1.9 M294.77,643.00 v1.9 M295.50,643.00 v3.2 M300.29,643.00 v1.9" fill="none" stroke="#333" stroke-width="0.8"/>
<rect x="366.50" y="518.50" width="54.90" height="54.50" fill="#ffffff" stroke="#000" stroke-width="1.0"/>
<line x1="367.00" y1="545.90" x2="420.90" y2="545.90" stroke="#d0708a" stroke-width="1.8"/>
<path d="M373.50,545.90 C373.92,545.67 375.25,544.98 376.00,544.50 C376.75,544.02 377.33,543.50 378.00,543.00 C378.67,542.50 379.33,541.92 380.00,541.50 C380.67,541.08 381.17,540.67 382.00,540.50 C382.83,540.33 384.17,540.50 385.00,540.50 C385.83,540.50 386.33,541.00 387.00,540.50 C387.67,540.00 388.33,538.75 389.00,537.50 C389.67,536.25 390.33,534.67 391.00,533.00 C391.67,531.33 392.33,529.17 393.00,527.50 C393.67,525.83 394.22,524.12 395.00,523.00 C395.78,521.88 396.95,521.05 397.70,520.80 C398.45,520.55 398.95,520.88 399.50,521.50 C400.05,522.12 400.50,523.25 401.00,524.50 C401.50,525.75 402.00,527.42 402.50,529.00 C403.00,530.58 403.50,532.42 404.00,534.00 C404.50,535.58 405.00,537.17 405.50,538.50 C406.00,539.83 406.42,541.00 407.00,542.00 C407.58,543.00 408.17,543.85 409.00,544.50 C409.83,545.15 411.50,545.67 412.00,545.90 L412.00,546.50 L373.50,546.50 Z" fill="#a3002a"/>
<line x1="367.00" y1="559.40" x2="420.90" y2="559.40" stroke="#6f86ad" stroke-width="1.3"/>
<path d="M376.00,559.40 C376.42,559.17 377.67,558.40 378.50,558.00 C379.33,557.60 380.08,557.42 381.00,557.00 C381.92,556.58 383.08,556.00 384.00,555.50 C384.92,555.00 385.75,554.67 386.50,554.00 C387.25,553.33 387.83,552.58 388.50,551.50 C389.17,550.42 389.83,548.92 390.50,547.50 C391.17,546.08 391.83,544.58 392.50,543.00 C393.17,541.42 393.75,539.47 394.50,538.00 C395.25,536.53 396.25,534.28 397.00,534.20 C397.75,534.12 398.33,536.03 399.00,537.50 C399.67,538.97 400.33,541.08 401.00,543.00 C401.67,544.92 402.33,547.17 403.00,549.00 C403.67,550.83 404.33,552.58 405.00,554.00 C405.67,555.42 406.17,556.60 407.00,557.50 C407.83,558.40 409.50,559.08 410.00,559.40 L410.00,560.00 L376.00,560.00 Z" fill="#2c4878"/>
<path d="M367.00,573.00 C368.17,572.97 372.50,573.05 374.00,572.80 C375.50,572.55 375.33,572.13 376.00,571.50 C376.67,570.87 377.42,569.75 378.00,569.00 C378.58,568.25 379.00,567.50 379.50,567.00 C380.00,566.50 380.42,566.33 381.00,566.00 C381.58,565.67 382.33,565.42 383.00,565.00 C383.67,564.58 384.33,564.25 385.00,563.50 C385.67,562.75 386.33,561.75 387.00,560.50 C387.67,559.25 388.33,557.33 389.00,556.00 C389.67,554.67 390.33,553.42 391.00,552.50 C391.67,551.58 392.33,551.08 393.00,550.50 C393.67,549.92 394.33,549.33 395.00,549.00 C395.67,548.67 396.42,548.62 397.00,548.50 C397.58,548.38 398.00,548.22 398.50,548.30 C399.00,548.38 399.50,548.63 400.00,549.00 C400.50,549.37 401.00,549.67 401.50,550.50 C402.00,551.33 402.50,552.58 403.00,554.00 C403.50,555.42 404.00,557.33 404.50,559.00 C405.00,560.67 405.50,562.50 406.00,564.00 C406.50,565.50 407.00,566.83 407.50,568.00 C408.00,569.17 408.42,570.20 409.00,571.00 C409.58,571.80 410.33,572.50 411.00,572.80 C411.67,573.10 411.35,572.77 413.00,572.80 C414.65,572.83 419.58,572.97 420.90,573.00" fill="none" stroke="#6ab04c" stroke-width="0.9" stroke-linejoin="round"/>
<path d="M366.80,573.00 v3.2 M371.59,573.00 v1.9 M374.39,573.00 v1.9 M376.37,573.00 v1.9 M377.91,573.00 v1.9 M379.17,573.00 v1.9 M380.24,573.00 v1.9 M381.16,573.00 v1.9 M381.97,573.00 v1.9 M382.70,573.00 v3.2 M387.49,573.00 v1.9 M390.29,573.00 v1.9 M392.27,573.00 v1.9 M393.81,573.00 v1.9 M395.07,573.00 v1.9 M396.14,573.00 v1.9 M397.06,573.00 v1.9 M397.87,573.00 v1.9 M398.60,573.00 v3.2 M403.39,573.00 v1.9 M406.19,573.00 v1.9 M408.17,573.00 v1.9 M409.71,573.00 v1.9 M410.97,573.00 v1.9 M412.04,573.00 v1.9 M412.96,573.00 v1.9 M413.77,573.00 v1.9 M414.50,573.00 v3.2 M419.29,573.00 v1.9" fill="none" stroke="#333" stroke-width="0.8"/>
</svg>
</body></html>
